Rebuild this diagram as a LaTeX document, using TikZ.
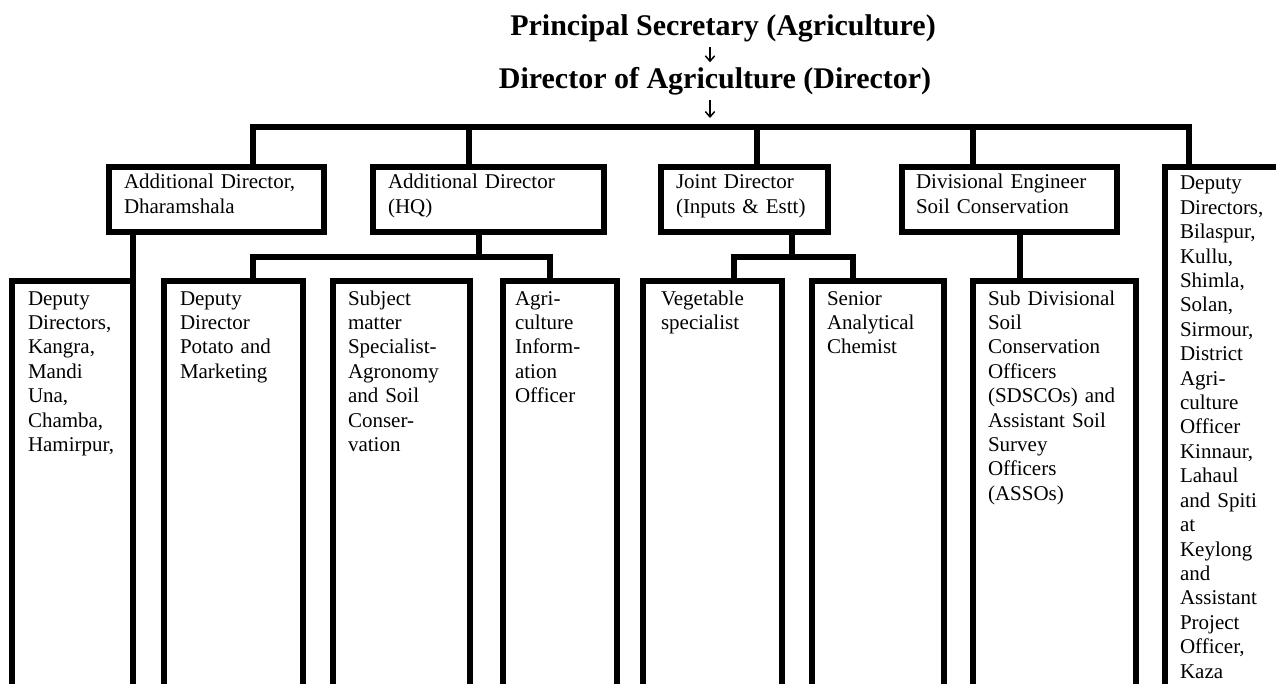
\documentclass[tikz,border=0pt]{standalone}
\usepackage{fontspec}
\setmainfont{Liberation Serif}
\usetikzlibrary{arrows.meta}
\newcommand\bodyfnt{\fontsize{15.75pt}{18.3pt}\selectfont\hyphenpenalty=10000\exhyphenpenalty=10000}
\newcommand\titlefnt{\fontsize{22.5pt}{27pt}\selectfont\bfseries}
\begin{document}
\begin{tikzpicture}[x=0.75pt,y=-0.75pt,
  orgbox/.style={draw=black, line width=4.1pt, outer sep=0pt, inner ysep=0pt,
    anchor=north west, align=left, font=\bodyfnt},
  topbox/.style={orgbox, text height=16.5pt, text depth=32.25pt},
  lowbox/.style={orgbox, text height=18pt, text depth=297pt},
  wire/.style={draw=black, line width=4.1pt},
  headtxt/.style={font=\titlefnt, inner sep=0pt, anchor=base},
  arr/.style={draw=black, line width=1.1pt, -{Straight Barb[length=4pt,width=7pt]}}]
\useasboundingbox (0,0) rectangle (1276,684);
\clip (0,0) rectangle (1276,684);

% titles
\node[headtxt] (t1) at (723,36) {Principal Secretary (Agriculture)};
\node[headtxt] (t2) at (715,89) {Director of Agriculture (Director)};

% top row
\node[topbox, inner xsep=11.25pt, text width=138.75pt] (T1) at (109,167) {Additional Director,\\Dharamshala};
\node[topbox, inner xsep=11.25pt, text width=150.75pt] (T2) at (373,167) {Additional Director\\(HQ)};
\node[topbox, inner xsep=11.25pt, text width=102.75pt] (T3) at (661,167) {Joint Director\\(Inputs \& Estt)};
\node[topbox, inner xsep=10.5pt, text width=140.25pt] (T4) at (902,167) {Divisional Engineer\\Soil Conservation};
\node[orgbox, inner xsep=11.25pt, text width=90pt, text height=17.25pt, text depth=387.75pt] (R) at (1165,167)
  {Deputy\\Directors,\\Bilaspur,\\Kullu,\\Shimla,\\Solan,\\Sirmour,\\District\\Agri-\\culture\\Officer\\Kinnaur,\\Lahaul\\and Spiti\\at\\Keylong\\and\\Assistant\\Project\\Officer,\\Kaza};

% lower row
\node[lowbox, inner xsep=12pt, text width=66.75pt] (B1) at (12,281) {Deputy\\Directors,\\Kangra,\\Mandi\\Una,\\Chamba,\\Hamirpur,};
\node[lowbox, inner xsep=12pt, text width=80.25pt] (B2) at (164,281) {Deputy\\Director\\Potato and\\Marketing};
\node[lowbox, inner xsep=11.25pt, text width=80.25pt] (B3) at (333,281) {Subject\\matter\\Specialist-\\Agronomy\\and Soil\\Conser-\\vation};
\node[lowbox, inner xsep=9pt, text width=67.5pt] (B4) at (503,281) {Agri-\\culture\\Inform-\\ation\\Officer};
\node[lowbox, inner xsep=13.5pt, text width=77.25pt] (B5) at (643,281) {Vegetable\\specialist};
\node[lowbox, inner xsep=11.25pt, text width=76.5pt] (B6) at (812,281) {Senior\\Analytical\\Chemist};
\node[lowbox, inner xsep=11.25pt, text width=99.75pt] (B7) at (973,281) {Sub Divisional\\Soil\\Conservation\\Officers\\(SDSCOs) and\\Assistant Soil\\Survey\\Officers\\(ASSOs)};

% arrows
\coordinate (ax) at (710,0);
\coordinate (bL) at (253,127);
\coordinate (bR) at (1189,127);
\draw[arr, shorten <=3.4pt, shorten >=4pt] (t1.south -| ax) -- (t2.north -| ax);
\draw[arr, shorten <=3pt, shorten >=6.75pt] (t2.south -| ax) -- (bL -| ax);

% main bus
\draw[wire] (T1.north -| bL) -- (bL) -- (bR) -- (R.north -| bR);
\coordinate (d2) at (469,127);
\coordinate (d3) at (757,127);
\coordinate (d4) at (973,127);
\draw[wire] (d2) -- (T2.north -| d2);
\draw[wire] (d3) -- (T3.north -| d3);
\draw[wire] (d4) -- (T4.north -| d4);

% T1 -> B1
\draw[wire] (T1.south -| B1.north east) -- (B1.north east);

% T2 -> B2, B4
\coordinate (s2) at (479,257);
\coordinate (s2L) at (253,257);
\coordinate (s2R) at (550,257);
\draw[wire] (T2.south -| s2) -- (s2);
\draw[wire] (B2.north -| s2L) -- (s2L) -- (s2R) -- (B4.north -| s2R);

% T3 -> B5, B6
\coordinate (s3) at (792,257);
\coordinate (s3L) at (734,257);
\coordinate (s3R) at (853,257);
\draw[wire] (T3.south -| s3) -- (s3);
\draw[wire] (B5.north -| s3L) -- (s3L) -- (s3R) -- (B6.north -| s3R);

% T4 -> B7
\coordinate (d7) at (1020,0);
\draw[wire] (T4.south -| d7) -- (B7.north -| d7);
\end{tikzpicture}
\end{document}
